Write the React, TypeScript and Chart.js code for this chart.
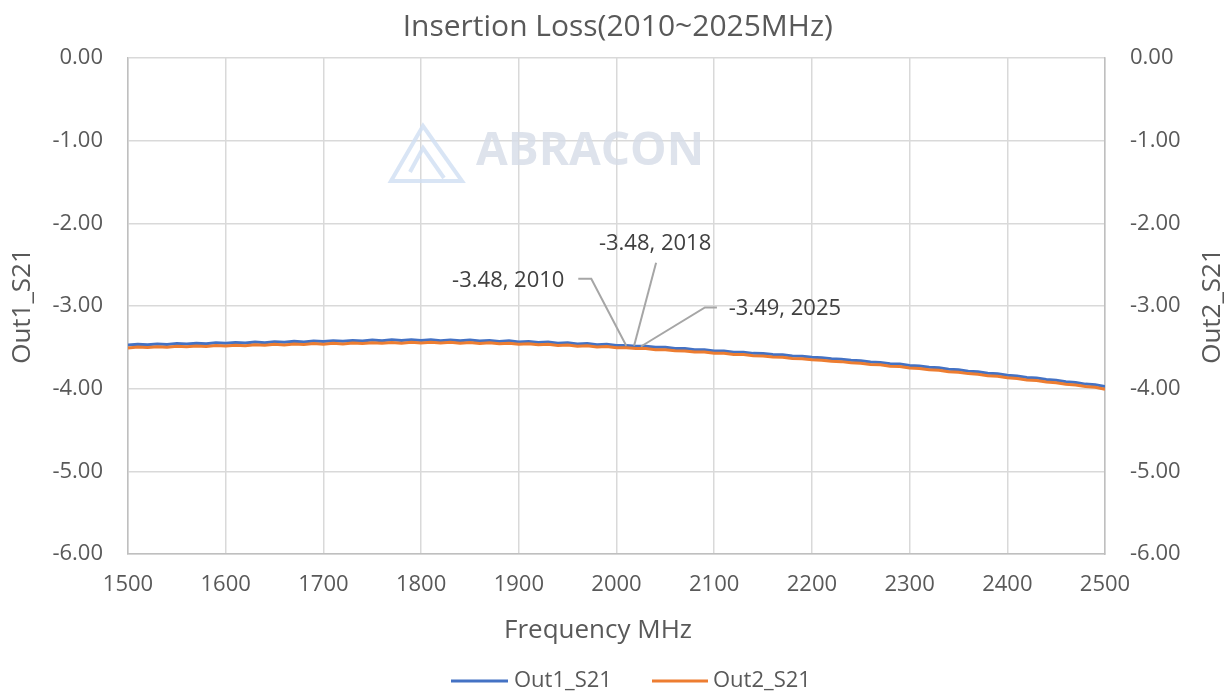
import React, { useEffect, useRef } from "react";
import { Chart, registerables } from "chart.js";

Chart.register(...registerables);

const FONT = "'Open Sans', 'Noto Sans', sans-serif";
const TEXT = "#595959";

const chartTitle = "Insertion Loss(2010~2025MHz)";
const xTitle = "Frequency MHz";
const yLeftTitle = "Out1_S21";
const yRightTitle = "Out2_S21";
const seriesNames = ["Out1_S21", "Out2_S21"];
const seriesColors = ["#4472c4", "#ed7d31"];

const frequencies = [
  1500, 1510, 1520, 1530, 1540, 1550, 1560, 1570, 1580, 1590,
  1600, 1610, 1620, 1630, 1640, 1650, 1660, 1670, 1680, 1690,
  1700, 1710, 1720, 1730, 1740, 1750, 1760, 1770, 1780, 1790,
  1800, 1810, 1820, 1830, 1840, 1850, 1860, 1870, 1880, 1890,
  1900, 1910, 1920, 1930, 1940, 1950, 1960, 1970, 1980, 1990,
  2000, 2010, 2020, 2030, 2040, 2050, 2060, 2070, 2080, 2090,
  2100, 2110, 2120, 2130, 2140, 2150, 2160, 2170, 2180, 2190,
  2200, 2210, 2220, 2230, 2240, 2250, 2260, 2270, 2280, 2290,
  2300, 2310, 2320, 2330, 2340, 2350, 2360, 2370, 2380, 2390,
  2400, 2410, 2420, 2430, 2440, 2450, 2460, 2470, 2480, 2490,
  2500,
];

const out1 = [
  -3.472, -3.464, -3.470, -3.459, -3.465, -3.455, -3.461, -3.450, -3.457, -3.446,
  -3.452, -3.442, -3.448, -3.437, -3.444, -3.433, -3.439, -3.427, -3.435, -3.423,
  -3.430, -3.419, -3.427, -3.416, -3.423, -3.412, -3.420, -3.409, -3.418, -3.408,
  -3.417, -3.409, -3.419, -3.410, -3.421, -3.412, -3.424, -3.416, -3.429, -3.421,
  -3.434, -3.428, -3.442, -3.435, -3.450, -3.444, -3.459, -3.453, -3.468, -3.463,
  -3.478, -3.479, -3.486, -3.487, -3.499, -3.500, -3.513, -3.514, -3.528, -3.528,
  -3.543, -3.544, -3.558, -3.559, -3.573, -3.574, -3.588, -3.590, -3.604, -3.607,
  -3.620, -3.625, -3.638, -3.643, -3.657, -3.662, -3.677, -3.682, -3.698, -3.703,
  -3.719, -3.725, -3.741, -3.748, -3.764, -3.771, -3.788, -3.795, -3.813, -3.820,
  -3.838, -3.846, -3.864, -3.872, -3.890, -3.899, -3.917, -3.926, -3.945, -3.954,
  -3.974,
];

const out2 = [
  -3.507, -3.496, -3.503, -3.492, -3.499, -3.487, -3.494, -3.483, -3.490, -3.478,
  -3.485, -3.474, -3.481, -3.469, -3.476, -3.464, -3.472, -3.460, -3.467, -3.455,
  -3.463, -3.451, -3.459, -3.447, -3.455, -3.444, -3.452, -3.441, -3.450, -3.439,
  -3.448, -3.439, -3.449, -3.440, -3.451, -3.442, -3.454, -3.445, -3.458, -3.450,
  -3.463, -3.456, -3.470, -3.463, -3.478, -3.472, -3.487, -3.481, -3.496, -3.491,
  -3.506, -3.504, -3.515, -3.515, -3.528, -3.528, -3.542, -3.543, -3.557, -3.557,
  -3.572, -3.573, -3.587, -3.588, -3.602, -3.604, -3.618, -3.620, -3.634, -3.637,
  -3.650, -3.655, -3.668, -3.673, -3.687, -3.692, -3.707, -3.712, -3.728, -3.733,
  -3.749, -3.755, -3.771, -3.778, -3.794, -3.801, -3.818, -3.825, -3.843, -3.850,
  -3.868, -3.876, -3.894, -3.902, -3.920, -3.929, -3.947, -3.956, -3.975, -3.984,
  -4.008,
];

// Callouts (data values) and their label offsets in pixels
const calloutFreqs = [2010, 2018, 2025];
const calloutValues = [-3.48, -3.48, -3.49];
const calloutLabels = ["-3.48, 2010", "-3.48, 2018", "-3.49, 2025"];
const calloutLayout = [
  { tx: -118, ty: -65, path: [[-35, -67], [-48, -67]] },
  { tx: 21, ty: -102, path: [[22, -83]] },
  { tx: 144, ty: -38, path: [[64, -39], [76, -39]] },
];

const calloutPlugin = {
  id: "callouts",
  afterDatasetsDraw(chart: any) {
    const { ctx } = chart;
    const xs = chart.scales.x;
    const ys = chart.scales.y;
    ctx.save();
    calloutFreqs.forEach((f, i) => {
      const px = xs.getPixelForValue(f);
      const py = ys.getPixelForValue(calloutValues[i]);
      const lay = calloutLayout[i];
      ctx.strokeStyle = "#a6a6a6";
      ctx.lineWidth = 2;
      ctx.beginPath();
      ctx.moveTo(px, py);
      lay.path.forEach(([dx, dy]) => ctx.lineTo(px + dx, py + dy));
      ctx.stroke();
      ctx.fillStyle = "#404040";
      ctx.font = `22px ${FONT}`;
      ctx.textBaseline = "middle";
      ctx.textAlign = "center";
      ctx.fillText(calloutLabels[i], px + lay.tx, py + lay.ty);
    });
    ctx.restore();
  },
};

const backgroundPlugin = {
  id: "background",
  beforeDraw(chart: any) {
    const { ctx } = chart;
    ctx.save();
    ctx.fillStyle = "#ffffff";
    ctx.fillRect(0, 0, chart.width, chart.height);
    ctx.restore();
  },
};

const watermarkOverlay = {
  id: "watermarkOverlay",
  beforeDatasetsDraw(chart: any) {
    const { ctx } = chart;
    ctx.save();
    ctx.globalAlpha = 0.8;
    ctx.strokeStyle = "#cfdff2";
    ctx.lineWidth = 4;
    ctx.beginPath();
    ctx.moveTo(391, 181);
    ctx.lineTo(423, 126);
    ctx.lineTo(462, 181);
    ctx.closePath();
    ctx.stroke();
    ctx.beginPath();
    ctx.moveTo(410, 172);
    ctx.lineTo(423, 148);
    ctx.lineTo(444, 178);
    ctx.stroke();
    ctx.fillStyle = "#d6dce7";
    ctx.font = `bold 46px ${FONT}`;
    ctx.textBaseline = "middle";
    ctx.textAlign = "left";
    ctx.fillText("ABRACON", 476, 152);
    ctx.restore();
  },
};

const extrasPlugin = {
  id: "extras",
  afterDraw(chart: any) {
    const { ctx, chartArea } = chart;
    ctx.save();
    ctx.fillStyle = TEXT;
    ctx.font = `26px ${FONT}`;
    ctx.textAlign = "center";
    ctx.textBaseline = "middle";
    ctx.fillText(xTitle, 598, 631);
    ctx.translate(1213, (chartArea.top + chartArea.bottom) / 2);
    ctx.rotate(-Math.PI / 2);
    ctx.fillText(yRightTitle, 0, 0);
    ctx.restore();
    ctx.save();
    const ly = 681;
    const items = [
      { x0: 451, x1: 508, tx: 514 },
      { x0: 652, x1: 708, tx: 713 },
    ];
    items.forEach((it, i) => {
      ctx.strokeStyle = seriesColors[i];
      ctx.lineWidth = 3;
      ctx.beginPath();
      ctx.moveTo(it.x0, ly);
      ctx.lineTo(it.x1, ly);
      ctx.stroke();
      ctx.fillStyle = TEXT;
      ctx.font = `22px ${FONT}`;
      ctx.textAlign = "left";
      ctx.textBaseline = "middle";
      ctx.fillText(seriesNames[i], it.tx, ly);
    });
    ctx.restore();
  },
};

export default function App() {
  const ref = useRef<HTMLCanvasElement | null>(null);
  useEffect(() => {
    if (!ref.current) return;
    const tickFont = { family: FONT, size: 22 };
    const chart = new Chart(ref.current, {
      type: "line",
      data: {
        datasets: [
          {
            label: seriesNames[0],
            data: frequencies.map((f, i) => ({ x: f, y: out1[i] })),
            borderColor: seriesColors[0],
            backgroundColor: seriesColors[0],
            borderWidth: 3,
            pointRadius: 0,
            tension: 0,
            yAxisID: "y",
            order: 1,
          },
          {
            label: seriesNames[1],
            data: frequencies.map((f, i) => ({ x: f, y: out2[i] })),
            borderColor: seriesColors[1],
            backgroundColor: seriesColors[1],
            borderWidth: 3,
            pointRadius: 0,
            tension: 0,
            yAxisID: "y",
            order: 0,
          },
        ],
      },
      options: {
        responsive: false,
        animation: false,
        layout: { padding: { left: 6.5, right: 0, top: 0, bottom: 46.4 } },
        plugins: {
          legend: { display: false },
          tooltip: { enabled: false },
          title: {
            display: true,
            text: chartTitle,
            color: TEXT,
            font: { family: FONT, size: 30, weight: "normal" },
            padding: { top: 9, bottom: 13 },
          },
        },
        scales: {
          x: {
            type: "linear",
            min: 1500,
            max: 2500,
            ticks: {
              stepSize: 100,
              color: TEXT,
              font: tickFont,
              padding: 18,
              maxRotation: 0,
              callback: (v: any) => String(v),
            },
            grid: { color: "#d9d9d9", lineWidth: 1.5, drawTicks: false },
            border: { color: "#bfbfbf", width: 1.5 },
            title: { display: false, text: xTitle },
            afterFit: (s: any) => {
              s.height = 92.6;
            },
          },
          y: {
            type: "linear",
            position: "left",
            min: -6,
            max: 0,
            ticks: {
              stepSize: 1,
              color: TEXT,
              font: tickFont,
              padding: 25,
              callback: (v: any) => Number(v).toFixed(2),
            },
            grid: { color: "#d9d9d9", lineWidth: 1.5, drawTicks: false },
            border: { color: "#bfbfbf", width: 1.5 },
            title: {
              display: true,
              text: yLeftTitle,
              color: TEXT,
              font: { family: FONT, size: 26 },
              padding: 0,
            },
            afterFit: (s: any) => {
              s.width = 121.5;
            },
          },
          y2: {
            type: "linear",
            position: "right",
            min: -6,
            max: 0,
            ticks: {
              stepSize: 1,
              color: TEXT,
              font: tickFont,
              padding: 25,
              callback: (v: any) => Number(v).toFixed(2),
            },
            grid: { drawOnChartArea: false, drawTicks: false },
            border: { color: "#bfbfbf", width: 1.5 },
            afterFit: (s: any) => {
              s.width = 124;
            },
          },
        },
      },
      plugins: [backgroundPlugin, watermarkOverlay, calloutPlugin, extrasPlugin],
    });
    return () => chart.destroy();
  }, []);
  return (
    <div style={{ position: "fixed", left: 0, top: 0, width: 1229, height: 693, background: "#fff" }}>
      <canvas ref={ref} width={1229} height={693} style={{ display: "block" }} />
    </div>
  );
}
